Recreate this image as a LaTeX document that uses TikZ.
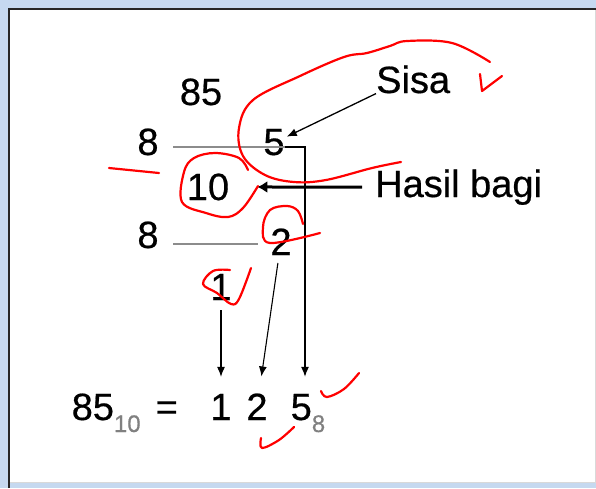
\documentclass[tikz,border=0pt]{standalone}
\usepackage{fontspec}
\setmainfont{Liberation Sans}
\newfontfamily\figfont{Liberation Sans}[FakeBold=0.5]
\usetikzlibrary{arrows.meta}
\definecolor{paneblue}{RGB}{198,217,240}
\newcommand\subnum[1]{\raisebox{-12pt}{\color{black!50}\fontsize{24}{24}\selectfont #1}}

\begin{document}
\begin{tikzpicture}[
    x=1pt, y=-1pt,
    num/.style={
      inner sep=0pt,
      anchor=base,
      font=\figfont\fontsize{38}{40}\selectfont
    },
    word/.style={num, anchor=base west},
    rule/.style={black!45, line width=1.2pt},
    arr/.style={line width=1.1pt, -{Latex[length=10pt, width=8pt]}},
    ink/.style={red, line width=2.2pt, line cap=round, line join=round}
  ]
  \useasboundingbox (0,0) rectangle (596,488);
  \fill[paneblue] (0,0) rectangle (596,488);
  \fill[white] (10,10) rectangle (595,482);
  \draw[black!15, line width=0.8pt] (595,10) -- (595,482) -- (10,482);
  \draw[black!85, line width=2.5pt] (9,488) -- (9,9) -- (596,9);

  \node[num] (n85) at (201,105) {85};
  \node[num] (d1) at (148,155) {8};
  \node[num] (r5) at (274,155) {5};
  \node[num] (q10) at (208,200) {10};
  \node[num] (d2) at (148,248) {8};
  \node[num, outer ysep=8pt] (r2) at (281,255) {2};
  \node[num, outer ysep=10pt] (q1) at (221,300) {1};
  \node[word] (sisa) at (376,93) {Sisa};
  \node[word] (hasil) at (375,197) {Hasil bagi};

  \node[word] (lhs) at (71.5,420) {85\subnum{10}\hspace{15pt}=};
  \node[num, outer ysep=17pt] (res1) at (221,420) {1};
  \node[num, outer ysep=17pt] (res2) at (257,420) {2};
  \node[word, outer ysep=17pt] (res5) at (290.5,420) {5\subnum{8}};

  \coordinate (k1) at (173,147);
  \coordinate (corner) at (305,147);
  \coordinate (k2) at (173,244);
  \coordinate (k2end) at (258,244);
  \draw[rule] (k1) -- (corner);
  \draw[rule] (k2) -- (k2end);
  \draw[line width=1.3pt, -{Latex[length=10pt, width=8pt]}]
    (r5.east |- corner) -- (corner) -- (corner |- res5.north);
  \draw[arr] (q1) -- (res1);
  \draw[arr] (r2) -- (res2);
  \draw[arr, line width=1.3pt] (sisa.south west) -- ([xshift=2pt, yshift=-8pt]r5.north east);
  \draw[line width=3pt, -{Latex[length=10pt, width=12pt]}, shorten <=13pt, shorten >=28pt]
    (hasil.west) -- (q10.east);

  \draw[ink] plot[smooth, tension=0.6] coordinates {(490,62) (452,43) (407,41) (390,46) (367,53) (344,57) (300,76) (253,100) (239,128) (243,156) (265,175) (294,182) (326,180) (372,168) (401,162)};
  \draw[ink] (480,74) -- (482,91) -- (502,76);
  \draw[ink] (109,168) -- (159,173);
  \draw[ink] plot[smooth, tension=0.6] coordinates {(248,170) (239,158) (215,153) (194,158) (184,172) (182,202) (206,213) (228,217) (243,208) (258,186)};
  \draw[ink] plot[smooth, tension=0.6] coordinates {(303,224) (298,211) (287,206) (270,210) (263,227) (270,243) (320,233)};
  \draw[ink] plot[smooth, tension=0.6] coordinates {(230,270) (213,271) (203,284) (217,293) (231,304) (239,299) (251,268)};
  \draw[ink] plot[smooth, tension=0.6] coordinates {(321,391) (327,397) (344,389) (359,373)};
  \draw[ink] plot[smooth, tension=0.6] coordinates {(261,438) (262,448) (279,440) (294,427)};
\end{tikzpicture}
\end{document}
